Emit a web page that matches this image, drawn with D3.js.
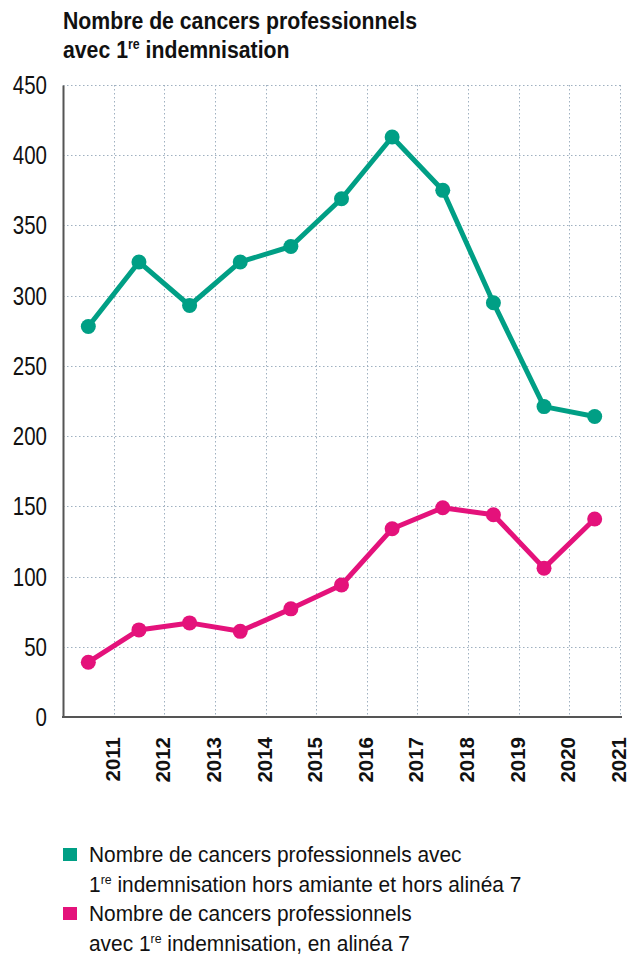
<!DOCTYPE html>
<html>
<head>
<meta charset="utf-8">
<script src="https://cdn.jsdelivr.net/npm/d3@7"></script>
<style>
  html, body { margin: 0; padding: 0; background: #fff; }
  svg { display: block; }
  text { font-family: "Liberation Sans", Arial, sans-serif; }
</style>
</head>
<body>
<svg id="chart" width="630" height="960"></svg>
<script>
// Periods (one band each) and the year labels drawn at band edges
const periods = ["2010", "2011", "2012", "2013", "2014", "2015", "2016", "2017", "2018", "2019", "2020"];
const yearLabels = ["2011", "2012", "2013", "2014", "2015", "2016", "2017", "2018", "2019", "2020", "2021"];
const horsAmiante = [278, 324, 293, 324, 335, 369, 413, 375, 295, 221, 214];
const alinea7 = [39, 62, 67, 61, 77, 94, 134, 149, 144, 106, 141];
const yTicks = [0, 50, 100, 150, 200, 250, 300, 350, 400, 450];

const GREEN = "#009f85";
const PINK = "#e4127b";

const svg = d3.select("#chart");
const margin = { left: 63, right: 622, top: 85, bottom: 717 };

const x = d3.scaleBand().domain(periods).range([margin.left, margin.right - 2]).padding(0);
const y = d3.scaleLinear().domain([0, 450]).range([margin.bottom, margin.top]);

// Condensed text: regular face squeezed horizontally
function narrowText(parent, px, py, size, sx, opts = {}) {
  return parent.append("text")
    .attr("transform", `translate(${px},${py}) scale(${sx},1)`)
    .attr("font-size", size)
    .attr("font-weight", opts.bold ? "bold" : "normal")
    .attr("text-anchor", opts.anchor || "start")
    .attr("fill", "#111");
}

// Title
const titleLine1 = narrowText(svg, 63, 29, 24, 0.885, { bold: true });
titleLine1.text("Nombre de cancers professionnels");
const titleLine2 = narrowText(svg, 63, 58, 24, 0.885, { bold: true });
titleLine2.append("tspan").text("avec 1");
titleLine2.append("tspan").attr("font-size", 14).attr("dy", -9).text("re");
titleLine2.append("tspan").attr("dy", 9).text(" indemnisation");

// Grid
const grid = svg.append("g").attr("stroke", "#9fb0c0").attr("stroke-width", 1)
  .attr("stroke-dasharray", "1.5,2.5");
grid.selectAll("line.h").data(yTicks.filter(d => d > 0)).join("line")
  .attr("x1", margin.left).attr("x2", margin.right - 2)
  .attr("y1", d => Math.round(y(d)) + 0.5).attr("y2", d => Math.round(y(d)) + 0.5);
grid.selectAll("line.v").data(periods).join("line")
  .attr("x1", d => Math.round(x(d) + x.bandwidth()) + 0.5)
  .attr("x2", d => Math.round(x(d) + x.bandwidth()) + 0.5)
  .attr("y1", margin.top).attr("y2", margin.bottom);

// Y axis
const yAxis = d3.axisLeft(y).tickValues(yTicks).tickSize(0).tickFormat("");
const gy = svg.append("g").attr("transform", `translate(${margin.left},0)`).call(yAxis);
gy.select(".domain").attr("stroke", "#555").attr("stroke-width", 2);
yTicks.forEach(v => {
  narrowText(svg, 47, y(v) + 9, 25, 0.82, { anchor: "end" }).text(d3.format("d")(v));
});

// X axis: labels sit under the band boundaries
const xEdge = d3.scaleOrdinal().domain(yearLabels)
  .range(periods.map(p => x(p) + x.bandwidth()));
svg.append("line").attr("x1", margin.left - 1).attr("x2", margin.right)
  .attr("y1", margin.bottom).attr("y2", margin.bottom)
  .attr("stroke", "#555").attr("stroke-width", 2);
svg.append("g").selectAll("text").data(yearLabels).join("text")
  .attr("transform", d => `translate(${xEdge(d) + 6},737) rotate(-90)`)
  .attr("text-anchor", "end")
  .attr("font-size", 20.5).attr("font-weight", "bold").attr("fill", "#111")
  .text(d => d);

// Series
const line = d3.line().x((d, i) => x(periods[i]) + x.bandwidth() / 2).y(d => y(d));
[[horsAmiante, GREEN], [alinea7, PINK]].forEach(([vals, col]) => {
  svg.append("path").datum(vals).attr("d", line)
    .attr("fill", "none").attr("stroke", col).attr("stroke-width", 5)
    .attr("stroke-linejoin", "round");
  svg.append("g").selectAll("circle").data(vals).join("circle")
    .attr("cx", (d, i) => x(periods[i]) + x.bandwidth() / 2)
    .attr("cy", d => y(d)).attr("r", 7.5).attr("fill", col);
});

// Legend
const items = [
  { col: GREEN, y: 862, lines: [["Nombre de cancers professionnels avec"], ["1", "re", " indemnisation hors amiante et hors alinéa 7"]] },
  { col: PINK, y: 921, lines: [["Nombre de cancers professionnels"], ["avec 1", "re", " indemnisation, en alinéa 7"]] }
];
const legend = svg.append("g");
items.forEach(it => {
  legend.append("rect").attr("x", 63).attr("y", it.y - 14).attr("width", 14).attr("height", 13).attr("fill", it.col);
  it.lines.forEach((parts, li) => {
    const t = narrowText(legend, 89, it.y + li * 30, 22, 0.95);
    t.append("tspan").text(parts[0]);
    if (parts.length > 1) {
      t.append("tspan").attr("font-size", 13).attr("dy", -8).text(parts[1]);
      t.append("tspan").attr("dy", 8).text(parts[2]);
    }
  });
});
</script>
</body>
</html>
